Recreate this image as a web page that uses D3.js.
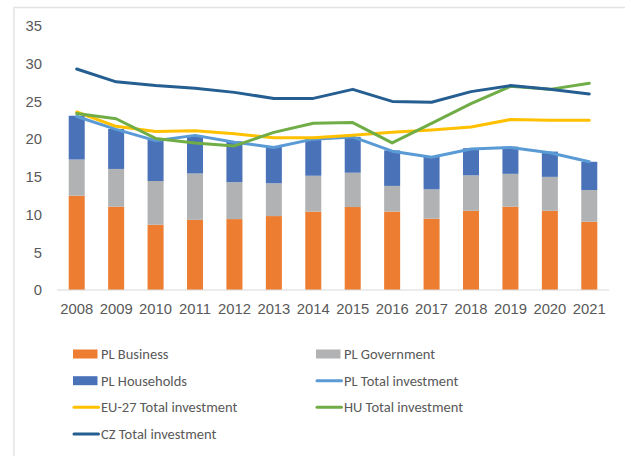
<!DOCTYPE html>
<html>
<head>
<meta charset="utf-8">
<script src="https://cdn.jsdelivr.net/npm/d3@7"></script>
<style>
  body { margin: 0; background: #fff; }
  svg { display: block; font-family: Calibri, Carlito, "Liberation Sans", Arial, sans-serif; }
</style>
</head>
<body>
<script>
// Chart data
var years = ["2008","2009","2010","2011","2012","2013","2014","2015","2016","2017","2018","2019","2020","2021"];
var plBusiness   = [12.5, 11.05, 8.65, 9.3, 9.4, 9.8, 10.4, 11.0, 10.4, 9.45, 10.5, 11.05, 10.5, 9.05];
var plGovernment = [4.8, 5.0, 5.8, 6.15, 4.9, 4.35, 4.75, 4.55, 3.4, 3.9, 4.7, 4.35, 4.5, 4.2];
var plHouseholds = [5.8, 5.3, 5.45, 5.05, 5.4, 4.85, 4.85, 4.75, 4.7, 4.35, 3.6, 3.6, 3.35, 3.75];
var plTotal  = [23.0, 21.3, 19.8, 20.5, 19.6, 18.9, 20.0, 20.3, 18.4, 17.6, 18.7, 18.9, 18.2, 17.0];
var euTotal  = [23.6, 21.7, 21.0, 21.1, 20.7, 20.2, 20.2, 20.5, 20.9, 21.2, 21.6, 22.6, 22.5, 22.5];
var huTotal  = [23.4, 22.7, 20.1, 19.5, 19.1, 20.9, 22.1, 22.2, 19.5, 22.1, 24.7, 27.0, 26.6, 27.4];
var czTotal  = [29.3, 27.6, 27.1, 26.75, 26.2, 25.4, 25.4, 26.6, 25.0, 24.9, 26.3, 27.1, 26.6, 26.0];
var yTicks = [0, 5, 10, 15, 20, 25, 30, 35];

var width = 625, height = 456;
var textColor = "#595959";

var svg = d3.select("body").append("svg")
    .attr("width", width)
    .attr("height", height);

// Chart border
svg.append("rect")
    .attr("x", 14).attr("y", 7.5)
    .attr("width", 640).attr("height", 470)
    .attr("fill", "none")
    .attr("stroke", "#e3e3e3")
    .attr("stroke-width", 1.5);

var x = d3.scaleBand()
    .domain(years)
    .range([57, 609])
    .paddingInner(0.594)
    .paddingOuter(0.297);

var y = d3.scaleLinear()
    .domain([0, 35])
    .range([290, 26]);

// Stack the bars
var stackData = years.map(function(yr, i) {
  return {year: yr, business: plBusiness[i], government: plGovernment[i], households: plHouseholds[i]};
});
var stack = d3.stack().keys(["business", "government", "households"]);
var barColors = {business: "#ED7D31", government: "#B1B2B3", households: "#4A72B9"};

var g = svg.append("g");

g.selectAll("g.layer")
  .data(stack(stackData))
  .enter().append("g")
    .attr("class", "layer")
    .attr("fill", function(d) { return barColors[d.key]; })
  .selectAll("rect")
  .data(function(d) { return d; })
  .enter().append("rect")
    .attr("x", function(d) { return x(d.data.year); })
    .attr("y", function(d) { return y(d[1]); })
    .attr("width", x.bandwidth())
    .attr("height", function(d) { return y(d[0]) - y(d[1]); });

// Axes
var xAxis = g.append("g")
    .attr("transform", "translate(0,290)")
    .call(d3.axisBottom(x).tickSize(0).tickPadding(13).tickSizeOuter(0));
xAxis.select(".domain").attr("stroke", "#d9d9d9").attr("stroke-width", 1.2)
    .attr("d", "M57,0H609");
xAxis.selectAll("text").attr("fill", textColor).style("font-size", "14.8px");

var yAxis = g.append("g")
    .attr("transform", "translate(42,0)")
    .call(d3.axisLeft(y).tickValues(yTicks).tickSize(0).tickPadding(0));
yAxis.select(".domain").remove();
yAxis.selectAll("text").attr("fill", textColor).style("font-size", "14.8px");

// Lines
var lineSeries = [
  {name: "PL Total investment", values: plTotal, color: "#5B9BD5"},
  {name: "EU-27 Total investment", values: euTotal, color: "#FFC000"},
  {name: "HU Total investment", values: huTotal, color: "#70AD47"},
  {name: "CZ Total investment", values: czTotal, color: "#255E91"}
];

var line = d3.line()
    .x(function(d, i) { return x(years[i]) + x.bandwidth() / 2; })
    .y(function(d) { return y(d); });

g.selectAll("path.series")
  .data(lineSeries)
  .enter().append("path")
    .attr("class", "series")
    .attr("d", function(d) { return line(d.values); })
    .attr("fill", "none")
    .attr("stroke", function(d) { return d.color; })
    .attr("stroke-width", 3)
    .attr("stroke-linejoin", "round")
    .attr("stroke-linecap", "round");

// Legend
var legendItems = [
  {name: "PL Business", color: barColors.business, type: "bar"},
  {name: "PL Government", color: barColors.government, type: "bar"},
  {name: "PL Households", color: barColors.households, type: "bar"},
  {name: "PL Total investment", color: "#5B9BD5", type: "line"},
  {name: "EU-27 Total investment", color: "#FFC000", type: "line"},
  {name: "HU Total investment", color: "#70AD47", type: "line"},
  {name: "CZ Total investment", color: "#255E91", type: "line"}
];
var colX = [73, 316], rowY = [354, 380.7, 407.3, 434];

var legend = svg.append("g").selectAll("g.item")
  .data(legendItems)
  .enter().append("g")
    .attr("class", "item")
    .attr("transform", function(d, i) { return "translate(" + colX[i % 2] + "," + rowY[Math.floor(i / 2)] + ")"; });

legend.filter(function(d) { return d.type == "bar"; })
  .append("rect")
    .attr("x", 0).attr("y", -4.5)
    .attr("width", 24.5).attr("height", 9)
    .attr("fill", function(d) { return d.color; });

legend.filter(function(d) { return d.type == "line"; })
  .append("line")
    .attr("x1", 1).attr("x2", 25.5)
    .attr("y1", 0).attr("y2", 0)
    .attr("stroke", function(d) { return d.color; })
    .attr("stroke-width", 3)
    .attr("stroke-linecap", "round");

legend.append("text")
    .attr("x", 28)
    .attr("dy", "0.35em")
    .attr("fill", textColor)
    .style("font-size", "14.5px")
    .text(function(d) { return d.name; });
</script>
</body>
</html>
